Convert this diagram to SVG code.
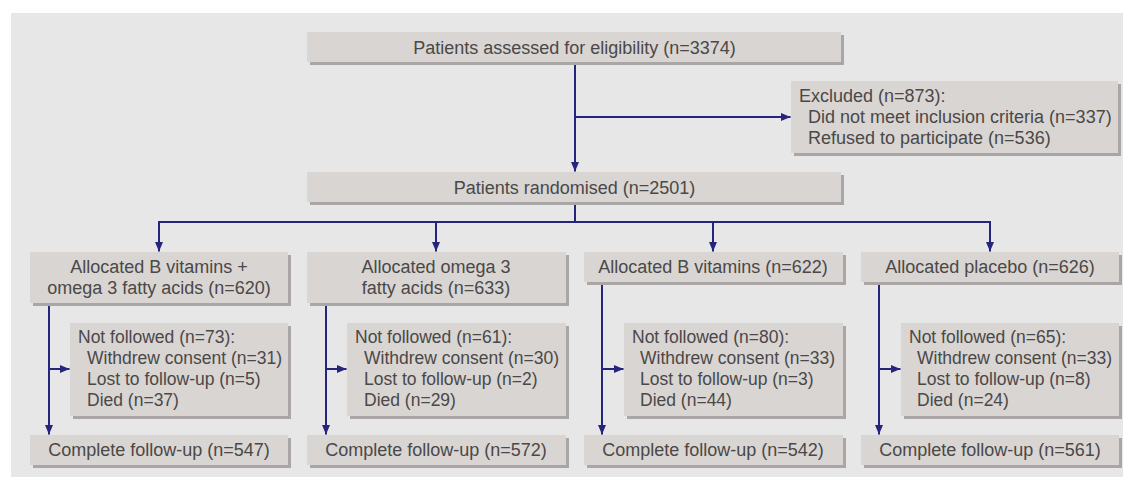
<svg xmlns="http://www.w3.org/2000/svg" width="1126" height="477" viewBox="0 0 1126 477">
<style>
.bg{fill:#e7e7e7}
.box{fill:#d9d5d2}
.sh{fill:#aaa6a6}
text{font-family:"Liberation Sans",Arial,sans-serif;font-size:18px;fill:#4a4848}
.nf text{font-size:17.5px}
.c{text-anchor:middle}
.ln{stroke:#25257d;stroke-width:2;fill:none}
.ar{marker-end:url(#ah)}
</style>
<defs>
<marker id="ah" markerUnits="userSpaceOnUse" markerWidth="10" markerHeight="10" refX="10" refY="5" orient="auto">
<path d="M0,0.8 L10,5 L0,9.2 z" fill="#25257d"/>
</marker>
</defs>
<rect class="bg" x="11" y="13" width="1112" height="464"/>

<g id="connectors">
<path class="ln ar" d="M575,62 V171.5"/>
<path class="ln ar" d="M575,117 H790.5"/>
<path class="ln" d="M575,202 V222 M159,222 H990"/>
<path class="ln ar" d="M159,221 V251.5"/>
<path class="ln ar" d="M436,222 V251.5"/>
<path class="ln ar" d="M713,222 V251.5"/>
<path class="ln ar" d="M990,221 V251.5"/>
<path class="ln ar" d="M49,303 V434.5"/>
<path class="ln ar" d="M49,369 H69.5"/>
<path class="ln ar" d="M326,303 V434.5"/>
<path class="ln ar" d="M326,369 H346.5"/>
<path class="ln ar" d="M602,282 V434.5"/>
<path class="ln ar" d="M602,369 H623.5"/>
<path class="ln ar" d="M879,282 V434.5"/>
<path class="ln ar" d="M879,369 H900.5"/>
</g>

<g id="assessed">
<rect class="sh" x="310" y="35" width="534" height="30"/>
<rect class="box" x="307" y="32" width="534" height="30"/>
<text class="c" x="574.5" y="53.5">Patients assessed for eligibility (n=3374)</text>
</g>

<g id="excluded">
<rect class="sh" x="794" y="84" width="327" height="72"/>
<rect class="box" x="791" y="81" width="327" height="72"/>
<text x="799" y="102">Excluded (n=873):</text>
<text x="808" y="123">Did not meet inclusion criteria (n=337)</text>
<text x="808" y="144">Refused to participate (n=536)</text>
</g>

<g id="randomised">
<rect class="sh" x="310" y="175" width="534" height="30"/>
<rect class="box" x="307" y="172" width="534" height="30"/>
<text class="c" x="574.5" y="193.5">Patients randomised (n=2501)</text>
</g>

<g id="alloc1">
<rect class="sh" x="33" y="255" width="258" height="51"/>
<rect class="box" x="30" y="252" width="258" height="51"/>
<text class="c" x="159" y="273">Allocated B vitamins +</text>
<text class="c" x="159" y="294">omega 3 fatty acids (n=620)</text>
</g>
<g id="alloc2">
<rect class="sh" x="310" y="255" width="259" height="51"/>
<rect class="box" x="307" y="252" width="259" height="51"/>
<text class="c" x="436" y="273">Allocated omega 3</text>
<text class="c" x="436" y="294">fatty acids (n=633)</text>
</g>
<g id="alloc3">
<rect class="sh" x="587" y="255" width="259" height="30"/>
<rect class="box" x="584" y="252" width="259" height="30"/>
<text class="c" x="713" y="273">Allocated B vitamins (n=622)</text>
</g>
<g id="alloc4">
<rect class="sh" x="864" y="255" width="258" height="30"/>
<rect class="box" x="861" y="252" width="258" height="30"/>
<text class="c" x="990" y="273">Allocated placebo (n=626)</text>
</g>

<g id="notfollowed1" class="nf">
<rect class="sh" x="73" y="326" width="218" height="93"/>
<rect class="box" x="70" y="323" width="218" height="93"/>
<text x="78" y="343">Not followed (n=73):</text>
<text x="87" y="364">Withdrew consent (n=31)</text>
<text x="87" y="385">Lost to follow-up (n=5)</text>
<text x="87" y="406">Died (n=37)</text>
</g>
<g id="notfollowed2" class="nf">
<rect class="sh" x="350" y="326" width="219" height="93"/>
<rect class="box" x="347" y="323" width="219" height="93"/>
<text x="355" y="343">Not followed (n=61):</text>
<text x="364" y="364">Withdrew consent (n=30)</text>
<text x="364" y="385">Lost to follow-up (n=2)</text>
<text x="364" y="406">Died (n=29)</text>
</g>
<g id="notfollowed3" class="nf">
<rect class="sh" x="627" y="326" width="219" height="93"/>
<rect class="box" x="624" y="323" width="219" height="93"/>
<text x="632" y="343">Not followed (n=80):</text>
<text x="640" y="364">Withdrew consent (n=33)</text>
<text x="640" y="385">Lost to follow-up (n=3)</text>
<text x="640" y="406">Died (n=44)</text>
</g>
<g id="notfollowed4" class="nf">
<rect class="sh" x="904" y="326" width="218" height="93"/>
<rect class="box" x="901" y="323" width="218" height="93"/>
<text x="909" y="343">Not followed (n=65):</text>
<text x="917" y="364">Withdrew consent (n=33)</text>
<text x="917" y="385">Lost to follow-up (n=8)</text>
<text x="917" y="406">Died (n=24)</text>
</g>

<g id="complete1">
<rect class="sh" x="33" y="438" width="258" height="30"/>
<rect class="box" x="30" y="435" width="258" height="30"/>
<text class="c" x="159" y="456">Complete follow-up (n=547)</text>
</g>
<g id="complete2">
<rect class="sh" x="310" y="438" width="259" height="30"/>
<rect class="box" x="307" y="435" width="259" height="30"/>
<text class="c" x="436" y="456">Complete follow-up (n=572)</text>
</g>
<g id="complete3">
<rect class="sh" x="587" y="438" width="259" height="30"/>
<rect class="box" x="584" y="435" width="259" height="30"/>
<text class="c" x="713" y="456">Complete follow-up (n=542)</text>
</g>
<g id="complete4">
<rect class="sh" x="864" y="438" width="258" height="30"/>
<rect class="box" x="861" y="435" width="258" height="30"/>
<text class="c" x="990" y="456">Complete follow-up (n=561)</text>
</g>
</svg>
